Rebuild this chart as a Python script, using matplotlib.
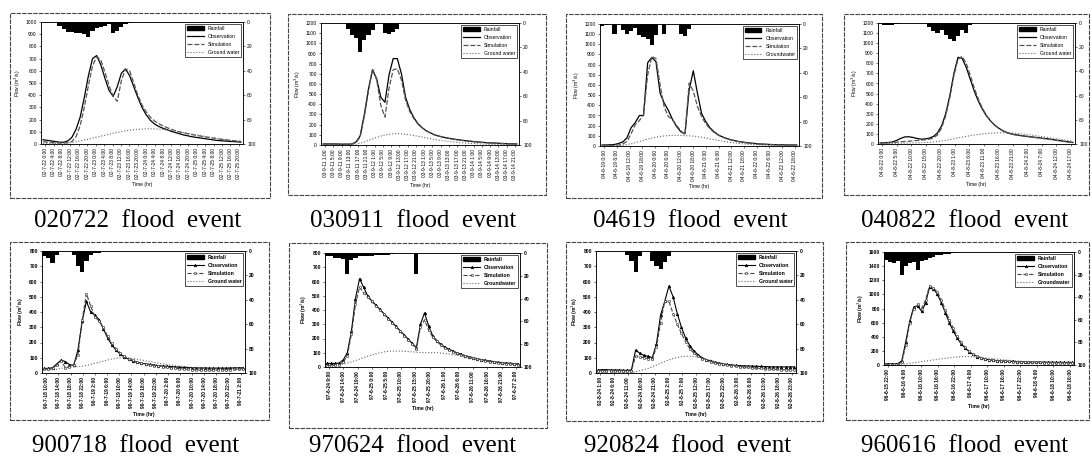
import numpy as np
import pandas as pd
import matplotlib
matplotlib.use("Agg")
import matplotlib.pyplot as plt
from matplotlib.patches import Rectangle, Patch
from matplotlib.lines import Line2D

plt.rcParams['font.family'] = ['Liberation Sans', 'DejaVu Sans']

W, H = 1091, 461

# ---- 020722 flood event ----
obs_020722 = [35, 30, 25, 20, 15, 15, 25, 55, 120, 220, 380, 560, 700, 725, 650, 540, 440, 390, 470, 580,
              615, 560, 470, 380, 300, 240, 195, 165, 145, 130, 118, 105, 95, 85, 75, 68, 60, 55, 50, 45,
              40, 35, 30, 27, 25, 22, 20, 18, 15]
sim_020722 = [20, 15, 12, 10, 8, 8, 10, 20, 60, 150, 300, 480, 640, 715, 690, 590, 480, 390, 350, 520,
              615, 600, 500, 400, 320, 265, 220, 190, 168, 150, 135, 122, 110, 100, 92, 85, 78, 72, 66, 60,
              55, 50, 45, 40, 36, 32, 28, 25, 22]
gw_020722 = [5, 5, 5, 5, 5, 6, 8, 12, 18, 25, 32, 40, 48, 56, 64, 72, 80, 88, 95, 102,
             108, 113, 117, 120, 122, 124, 125, 124, 122, 119, 115, 111, 106, 100, 94, 88, 82, 76, 70, 64,
             58, 52, 46, 41, 36, 31, 27, 23, 20]
rain_020722 = [0, 0, 0, 0, 3, 6, 8, 8, 9, 9, 10, 12, 7, 5, 4, 3, 2, 9, 7, 4,
               2, 1, 0, 0, 0, 0, 0, 0, 0, 0, 0, 0, 0, 0, 0, 0, 0, 0, 0, 0,
               0, 0, 0, 0, 0, 0, 0, 0, 0]

# ---- 030911 flood event ----
obs_030911 = [10, 10, 10, 10, 8, 8, 8, 10, 30, 90, 300, 550, 740, 650, 470, 420, 690, 850, 850, 700,
              470, 350, 270, 210, 170, 140, 120, 100, 88, 78, 70, 62, 56, 50, 45, 40, 36, 32, 28, 25,
              22, 20, 18, 16, 14, 12, 11, 10]
sim_030911 = [10, 10, 10, 10, 10, 8, 8, 10, 25, 80, 280, 530, 750, 640, 390, 275, 560, 740, 750, 640,
              440, 330, 260, 205, 170, 140, 118, 100, 88, 78, 68, 60, 54, 48, 43, 38, 34, 30, 27, 24,
              21, 19, 17, 15, 13, 12, 11, 10]
gw_030911 = [0, 0, 0, 0, 0, 0, 0, 2, 8, 18, 30, 45, 60, 75, 88, 98, 105, 110, 112, 110,
             106, 100, 93, 86, 78, 70, 62, 55, 48, 42, 37, 32, 28, 24, 21, 18, 15, 13, 11, 9,
             8, 7, 6, 5, 4, 4, 3, 3]
rain_030911 = [0, 0, 0, 0, 0, 0, 5, 10, 12, 24, 14, 10, 6, 1, 0, 8, 9, 7, 5, 0,
               0, 0, 0, 0, 0, 0, 0, 0, 0, 0, 0, 0, 0, 0, 0, 0, 0, 0, 0, 0,
               0, 0, 0, 0, 0, 0, 0, 0]

# ---- 04619 flood event ----
obs_04619 = [10, 10, 12, 15, 25, 40, 80, 180, 230, 300, 300, 820, 870, 830, 520, 420, 350, 260, 190, 140,
             120, 550, 740, 520, 320, 240, 180, 140, 110, 90, 75, 62, 52, 44, 38, 32, 28, 24, 20, 18,
             16, 14, 13, 12, 11, 10, 10, 10]
sim_04619 = [5, 5, 5, 8, 10, 20, 45, 120, 210, 250, 310, 700, 880, 860, 600, 380, 290, 260, 200, 150,
             110, 620, 540, 390, 290, 220, 170, 135, 108, 88, 72, 60, 50, 42, 36, 30, 26, 22, 19, 17,
             15, 13, 12, 11, 10, 10, 9, 9]
gw_04619 = [0, 0, 0, 2, 4, 8, 14, 22, 32, 44, 56, 68, 78, 87, 94, 99, 102, 104, 105, 104,
            102, 100, 97, 92, 86, 79, 71, 63, 55, 48, 41, 35, 30, 25, 21, 18, 15, 12, 10, 8,
            7, 6, 5, 4, 4, 3, 3, 3]
rain_04619 = [2, 1, 0, 8, 0, 5, 8, 6, 3, 9, 11, 12, 17, 9, 0, 8, 0, 0, 0, 8,
              10, 4, 0, 0, 0, 0, 0, 0, 0, 0, 0, 0, 0, 0, 0, 0, 0, 0, 0, 0,
              0, 0, 0, 0, 0, 0, 0, 0]

# ---- 040822 flood event ----
obs_040822 = [10, 12, 15, 20, 35, 55, 70, 72, 65, 55, 48, 50, 58, 75, 110, 180, 300, 480, 700, 860,
              850, 760, 640, 520, 420, 340, 275, 225, 185, 155, 130, 112, 100, 92, 86, 80, 75, 70, 65, 60,
              55, 50, 44, 38, 32, 26, 20, 15]
sim_040822 = [10, 10, 12, 15, 18, 22, 25, 28, 32, 35, 38, 42, 48, 60, 90, 160, 280, 460, 680, 840,
              870, 800, 680, 550, 440, 350, 280, 225, 185, 152, 128, 110, 98, 90, 84, 78, 73, 68, 63, 58,
              53, 48, 42, 36, 30, 24, 19, 14]
gw_040822 = [5, 5, 6, 6, 7, 8, 9, 10, 11, 12, 13, 15, 17, 20, 24, 30, 36, 44, 52, 60,
             68, 76, 83, 89, 95, 100, 104, 108, 110, 112, 112, 111, 109, 106, 102, 98, 93, 88, 82, 76,
             70, 64, 58, 52, 46, 40, 34, 28]
rain_040822 = [0, 2, 2, 2, 1, 0, 0, 0, 0, 0, 0, 0, 3, 7, 8, 6, 10, 13, 15, 11,
               6, 8, 2, 0, 0, 0, 0, 0, 0, 0, 0, 0, 0, 0, 0, 0, 0, 0, 0, 0,
               0, 0, 0, 0, 0, 0, 0, 0]

# ---- 900718 flood event ----
obs_900718 = [30, 30, 35, 60, 85, 75, 55, 50, 150, 340, 470, 400, 380, 350, 290, 230, 185, 150, 125, 105,
              90, 78, 70, 64, 60, 56, 52, 49, 46, 44, 42, 40, 38, 37, 36, 35, 34, 33, 33, 32,
              32, 32, 32, 32, 33, 33, 34, 34]
sim_900718 = [25, 25, 30, 50, 80, 35, 40, 55, 120, 350, 520, 440, 370, 340, 300, 240, 195, 160, 132, 110,
              95, 82, 72, 65, 58, 53, 49, 45, 42, 38, 34, 31, 28, 26, 24, 22, 20, 19, 18, 18,
              18, 18, 19, 20, 22, 24, 26, 28]
gw_900718 = [20, 20, 22, 25, 30, 35, 38, 40, 42, 45, 50, 56, 63, 70, 78, 85, 92, 97, 100, 101,
             99, 95, 90, 85, 80, 75, 70, 65, 60, 56, 52, 48, 45, 42, 39, 36, 34, 32, 30, 28,
             27, 26, 25, 24, 23, 22, 22, 21]
rain_900718 = [4, 6, 10, 3, 0, 0, 0, 3, 12, 17, 8, 3, 2, 2, 0, 0, 0, 0, 0, 0,
               0, 0, 0, 0, 0, 0, 0, 0, 0, 0, 0, 0, 0, 0, 0, 0, 0, 0, 0, 0,
               0, 0, 0, 0, 0, 0, 0, 0]

# ---- 970624 flood event ----
obs_970624 = [25, 25, 25, 28, 50, 100, 250, 480, 620, 560, 500, 465, 435, 405, 375, 345, 315, 285, 255, 225,
              195, 165, 135, 300, 380, 290, 220, 185, 160, 140, 125, 112, 100, 90, 80, 72, 65, 58, 52, 47,
              42, 38, 34, 31, 28, 26, 24, 22]
sim_970624 = [10, 10, 12, 15, 35, 80, 230, 440, 560, 520, 490, 460, 430, 400, 370, 340, 310, 280, 250, 220,
              190, 160, 125, 280, 330, 260, 210, 180, 155, 135, 120, 107, 95, 85, 76, 68, 60, 53, 47, 42,
              37, 33, 29, 26, 23, 21, 19, 17]
gw_970624 = [15, 15, 16, 18, 22, 28, 36, 45, 55, 65, 75, 85, 93, 100, 106, 110, 112, 112, 111, 110,
             108, 106, 104, 102, 100, 100, 101, 100, 98, 95, 91, 87, 82, 77, 72, 67, 62, 57, 52, 48,
             44, 40, 36, 33, 30, 27, 24, 22]
rain_970624 = [3, 3, 4, 4, 5, 18, 6, 4, 3, 3, 3, 3, 2, 2, 2, 2, 1, 0, 0, 0,
               0, 0, 18, 0, 0, 0, 0, 0, 0, 0, 0, 0, 0, 0, 0, 0, 0, 0, 0, 0,
               0, 0, 0, 0, 0, 0, 0, 0]

# ---- 920824 flood event ----
obs_920824 = [20, 22, 22, 20, 20, 20, 18, 18, 20, 150, 130, 115, 110, 100, 190, 380, 470, 570, 500, 390,
              300, 230, 180, 145, 120, 100, 88, 78, 70, 65, 60, 56, 53, 50, 48, 47, 46, 45, 44, 43,
              42, 41, 40, 40, 40, 40, 40, 40]
sim_920824 = [15, 15, 15, 15, 14, 14, 14, 14, 15, 110, 105, 100, 95, 90, 170, 330, 470, 470, 390, 320,
              260, 205, 160, 130, 110, 95, 82, 72, 65, 60, 56, 52, 48, 45, 42, 40, 38, 35, 32, 30,
              28, 26, 24, 23, 22, 21, 20, 20]
gw_920824 = [0, 0, 0, 0, 0, 0, 0, 0, 2, 8, 15, 22, 30, 40, 52, 64, 76, 86, 95, 102,
             107, 110, 110, 108, 104, 98, 91, 84, 77, 70, 63, 57, 51, 46, 42, 38, 35, 32, 30, 28,
             26, 25, 24, 23, 22, 21, 20, 20]
rain_920824 = [0, 0, 0, 0, 0, 0, 0, 3, 8, 17, 4, 0, 0, 8, 12, 15, 9, 4, 0, 0,
               0, 0, 0, 0, 0, 0, 0, 0, 0, 0, 0, 0, 0, 0, 0, 0, 0, 0, 0, 0,
               0, 0, 0, 0, 0, 0, 0, 0]

# ---- 960616 flood event ----
obs_960616 = [20, 20, 20, 20, 60, 330, 620, 820, 840, 760, 880, 1100, 1080, 1000, 880, 740, 600, 480, 380, 300,
              240, 190, 150, 120, 100, 85, 75, 68, 62, 58, 55, 52, 50, 48, 46, 45, 44, 43, 42, 41,
              40, 40, 39, 38, 38, 37, 37, 36]
sim_960616 = [10, 10, 10, 10, 40, 280, 600, 800, 860, 800, 920, 1120, 1090, 1030, 920, 780, 640, 520, 410, 320,
              250, 195, 155, 125, 102, 86, 75, 67, 61, 56, 52, 50, 48, 46, 44, 42, 40, 38, 37, 36,
              35, 34, 33, 32, 31, 30, 30, 29]
gw_960616 = [5, 5, 5, 6, 10, 16, 24, 32, 40, 48, 56, 64, 72, 80, 88, 96, 103, 109, 114, 118,
             120, 119, 116, 112, 107, 101, 95, 89, 83, 77, 72, 67, 62, 58, 54, 50, 47, 44, 41, 38,
             36, 34, 32, 30, 29, 27, 26, 25]
rain_960616 = [7, 9, 10, 8, 20, 12, 10, 9, 16, 8, 7, 5, 4, 3, 3, 2, 2, 1, 0, 0,
               0, 0, 0, 0, 0, 0, 0, 0, 0, 0, 0, 0, 0, 0, 0, 0, 0, 0, 0, 0,
               0, 0, 0, 0, 0, 0, 0, 0]

captions = ["020722  flood  event", "030911  flood  event", "04619  flood  event", "040822  flood  event",
            "900718  flood  event", "970624  flood  event", "920824  flood  event", "960616  flood  event"]
tick_start = ["2002-07-22 0:00", "2003-09-11 1:00", "2004-06-19 0:00", "2004-08-22 0:00",
              "1990-07-18 10:00", "1997-06-24 9:00", "1992-08-24 1:00", "1996-06-15 22:00"]
tick_step_h = [4, 4, 6, 5, 4, 5, 5, 6]
tick_count = [24, 24, 16, 14, 17, 14, 15, 12]
flow_max = [1000, 1200, 1200, 1200, 800, 800, 800, 1600]
flow_step = [100, 100, 100, 100, 100, 100, 100, 200]
gw_names = ["Ground water", "Ground water", "Groundwater", "Ground water",
            "Ground water", "Groundwater", "Ground water", "Groundwater"]

series = [
    (obs_020722, sim_020722, gw_020722, rain_020722),
    (obs_030911, sim_030911, gw_030911, rain_030911),
    (obs_04619, sim_04619, gw_04619, rain_04619),
    (obs_040822, sim_040822, gw_040822, rain_040822),
    (obs_900718, sim_900718, gw_900718, rain_900718),
    (obs_970624, sim_970624, gw_970624, rain_970624),
    (obs_920824, sim_920824, gw_920824, rain_920824),
    (obs_960616, sim_960616, gw_960616, rain_960616),
]

# layout in pixels: plot area (x0, y0, x1, y1), outer frame, caption centre
axes_px = [(41, 22, 243, 144), (321, 23, 519, 145), (600, 24, 799, 146), (878, 23, 1075, 144),
           (42, 251, 245, 373), (325, 253, 520, 367), (596, 251, 796, 373), (884, 252, 1074, 365)]
frame_px = [(10, 13, 270, 198), (288, 14, 546, 195), (566, 14, 822, 198), (844, 14, 1089, 195),
            (10, 242, 269, 420), (289, 243, 547, 428), (566, 242, 823, 421), (846, 242, 1089, 420)]
caption_px = [(138, 221), (413, 221), (690, 221), (965, 221),
              (136, 446), (413, 446), (688, 446), (965, 446)]


def fig_rect(x0, y0, x1, y1):
    return [x0 / W, 1 - y1 / H, (x1 - x0) / W, (y1 - y0) / H]


def make_labels(start, step, n):
    times = pd.date_range(start, periods=n, freq=f"{step}h")
    return [f"{t:%y}-{t.month}-{t.day} {t.hour}:00" for t in times]


fig = plt.figure(figsize=(W / 100, H / 100), dpi=100)

for k, (obs, sim, gw, rain) in enumerate(series):
    bottom_row = k >= 4
    weight = 'bold' if bottom_row else 'normal'
    fx0, fy0, fx1, fy1 = frame_px[k]
    fig.add_artist(Rectangle((fx0 / W, 1 - fy1 / H), (fx1 - fx0) / W, (fy1 - fy0) / H,
                             transform=fig.transFigure, fill=False, lw=0.8,
                             ec='#444444', ls=(0, (4, 1))))

    ax = fig.add_axes(fig_rect(*axes_px[k]))
    x = np.arange(len(obs))
    if bottom_row:
        l_obs, = ax.plot(x, obs, color='black', lw=0.8, marker='^', ms=1.8, mew=0.5)
        l_sim, = ax.plot(x, sim, color='#444444', lw=0.8, ls='--', marker='s', ms=1.3,
                         mfc='white', mew=0.5)
    else:
        l_obs, = ax.plot(x, obs, color='black', lw=0.9)
        l_sim, = ax.plot(x, sim, color='#555555', lw=0.9, ls=(0, (4, 1.5)))
    l_gw, = ax.plot(x, gw, color='#666666', lw=0.8, ls=':')

    ax.set_xlim(-0.5, len(obs) - 0.5)
    ax.set_ylim(0, flow_max[k])
    ax.set_yticks(np.arange(0, flow_max[k] + 1, flow_step[k]))
    pos = np.linspace(0.5, len(obs) - 1.5, tick_count[k])
    ax.set_xticks(pos)
    ax.set_xticklabels(make_labels(tick_start[k], tick_step_h[k], tick_count[k]),
                       rotation=90, fontsize=3.5, fontweight=weight)
    for lab in ax.get_yticklabels():
        lab.set_fontsize(3.6)
        lab.set_fontweight(weight)
    ax.tick_params(length=1.5, width=0.4, pad=1.5)
    ax.set_xlabel("Time (hr)", fontsize=3.6, fontweight=weight, labelpad=2.5)
    ax.set_ylabel("Flow (m$^3$/s)", fontsize=3.6, fontweight=weight, labelpad=2)
    for s in ax.spines.values():
        s.set_linewidth(0.5)

    axr = ax.twinx()
    axr.bar(x, rain, width=1.0, color='black', lw=0)
    axr.set_ylim(100, 0)
    axr.set_yticks([0, 20, 40, 60, 80, 100])
    for lab in axr.get_yticklabels():
        lab.set_fontsize(3.6)
        lab.set_fontweight(weight)
    axr.tick_params(length=1.5, width=0.4, pad=1.5)
    for s in axr.spines.values():
        s.set_linewidth(0.5)

    handles = [Patch(fc='black', ec='black'), l_obs, l_sim, l_gw]
    leg = axr.legend(handles, ["Rainfall", "Observation", "Simulation", gw_names[k]],
                     loc='upper right', frameon=True, fancybox=False,
                     edgecolor='black', borderpad=0.4, handlelength=3.2, labelspacing=0.6,
                     handleheight=0.8, borderaxespad=0.3,
                     prop={'size': 3.7, 'weight': weight})
    leg.get_frame().set_linewidth(0.6)

    cx, cy = caption_px[k]
    fig.text(cx / W, 1 - cy / H, captions[k], ha='center', va='center',
             family='Liberation Serif', fontsize=18)

fig.savefig("out.png", dpi=100)
